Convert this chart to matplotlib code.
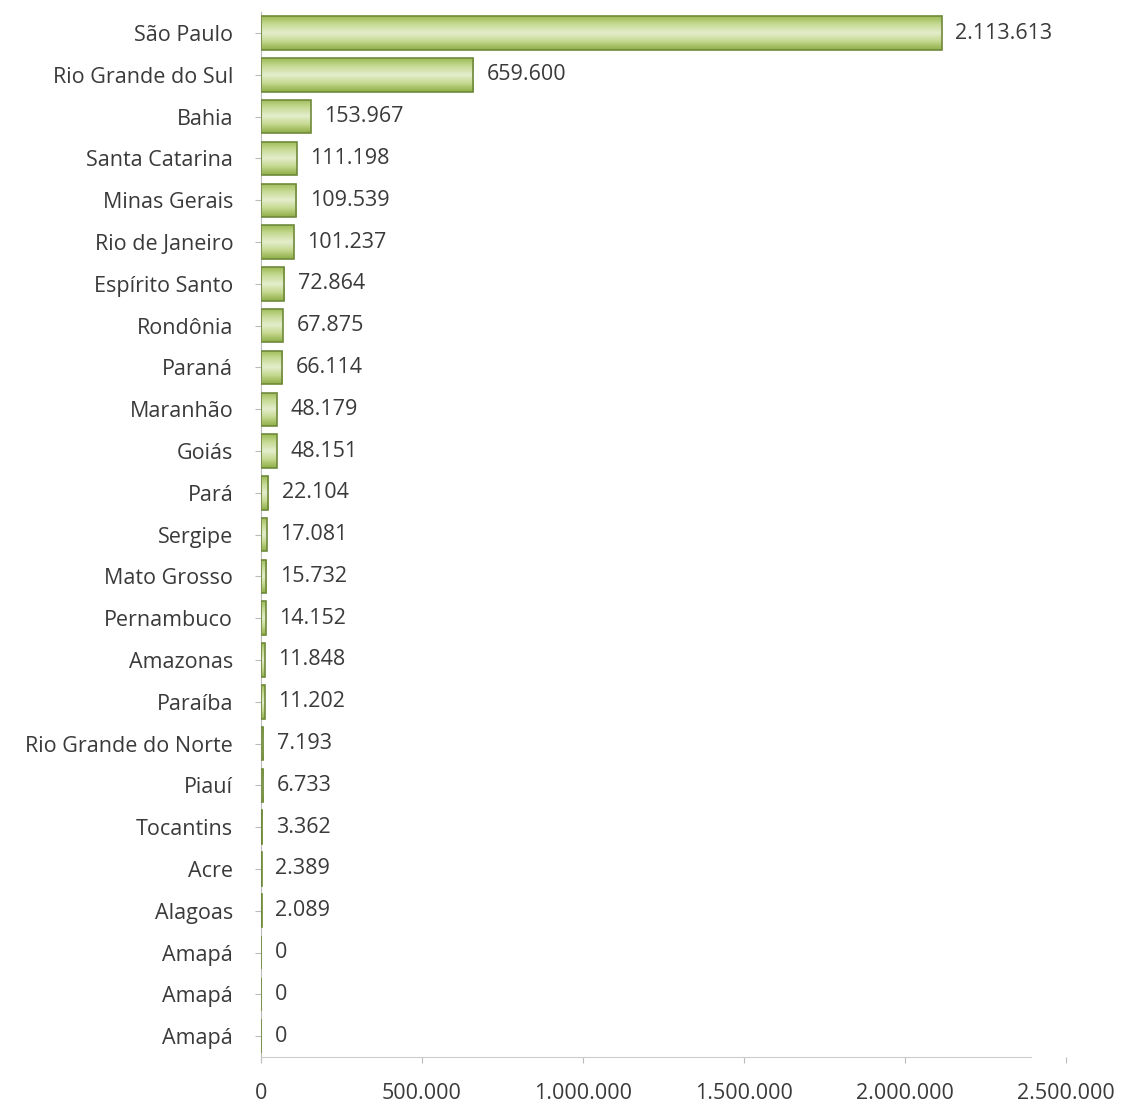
import matplotlib.pyplot as plt
import matplotlib.ticker as tk
import numpy as np
from matplotlib.colors import LinearSegmentedColormap

plt.rcParams['font.family'] = ['Open Sans', 'DejaVu Sans']

estados = ['São Paulo', 'Rio Grande do Sul', 'Bahia', 'Santa Catarina', 'Minas Gerais',
           'Rio de Janeiro', 'Espírito Santo', 'Rondônia', 'Paraná', 'Maranhão',
           'Goiás', 'Pará', 'Sergipe', 'Mato Grosso', 'Pernambuco', 'Amazonas',
           'Paraíba', 'Rio Grande do Norte', 'Piauí', 'Tocantins', 'Acre', 'Alagoas',
           'Amapá', 'Amapá', 'Amapá']
valores = [2113613, 659600, 153967, 111198, 109539, 101237, 72864, 67875, 66114,
           48179, 48151, 22104, 17081, 15732, 14152, 11848, 11202, 7193, 6733,
           3362, 2389, 2089, 0, 0, 0]
xticks = [0, 500000, 1000000, 1500000, 2000000, 2500000]


def fmt_br(v, pos=None):
    # thousands separated by dots
    return '{:,}'.format(int(v)).replace(',', '.')


fig = plt.figure(figsize=(11.25, 11.08), dpi=100)
ax = fig.add_axes([0.232, 0.046, 0.7156, 0.943])

y = np.arange(len(estados))
h = 0.8
bars = ax.barh(y, valores, height=h, color='none', edgecolor='#6f8a3c', linewidth=1.2, zorder=3)

# glossy green fill inside each bar
cmap = LinearSegmentedColormap.from_list('verde', ['#9dbb55', '#c9dc98', '#e4edcc', '#c4d88e', '#8fae48'])
grad = np.linspace(0, 1, 64).reshape(-1, 1)
for b, v in zip(bars, valores):
    if v <= 0:
        continue
    x0, y0 = b.get_x(), b.get_y()
    im = ax.imshow(grad, cmap=cmap, aspect='auto', extent=[x0, x0 + v, y0 + h, y0],
                   zorder=2, interpolation='bicubic')
    im.set_clip_path(b)

for yi, v in zip(y, valores):
    ax.text(v + 42000, yi, fmt_br(v), va='center', ha='left', fontsize=15.5, color='#3a3a3a')

ax.set_ylim(len(estados) - 0.5, -0.5)
ax.set_xlim(0, 2500000)
ax.set_yticks(y)
ax.set_yticklabels(estados, fontsize=15.5, color='#3a3a3a')
ax.set_xticks(xticks)
ax.xaxis.set_major_formatter(tk.FuncFormatter(fmt_br))
ax.tick_params(axis='x', labelsize=15.5, labelcolor='#3a3a3a', length=4, color='#bbbbbb', pad=15)
ax.tick_params(axis='y', length=4, color='#bbbbbb', pad=16)

for s in ['top', 'right']:
    ax.spines[s].set_visible(False)
ax.spines['left'].set_color('#bbbbbb')
ax.spines['bottom'].set_color('#cccccc')
ax.spines['bottom'].set_bounds(0, 2390000)

fig.savefig('out.png', dpi=100)
